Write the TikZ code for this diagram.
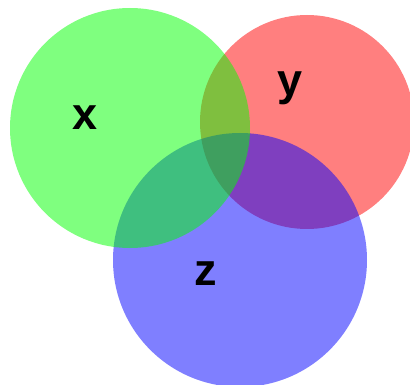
\documentclass[tikz,border=0pt]{standalone}
\usepackage{fontspec}
\setmainfont{Liberation Sans}
\begin{document}
\begin{tikzpicture}[x=1pt,y=-1pt,
  setcircle/.style={fill opacity=0.5, draw=none},
  setlabel/.style={anchor=base, inner sep=0pt, font=\fontsize{45}{45}\selectfont\bfseries, text=black}]
\useasboundingbox (0,0) rectangle (410,385);
\clip (0,0) rectangle (410,385);
\fill[white] (0,0) rectangle (410,385);
\fill[setcircle, red] (307,122) circle[radius=107];
\fill[setcircle, blue] (240,260) circle[radius=127];
\fill[setcircle, green] (130,128) circle[radius=120];
\node[setlabel] (lx) at (85,130) {x};
\node[setlabel] (ly) at (290,96) {y};
\node[setlabel] (lz) at (206,285) {z};
\end{tikzpicture}
\end{document}
